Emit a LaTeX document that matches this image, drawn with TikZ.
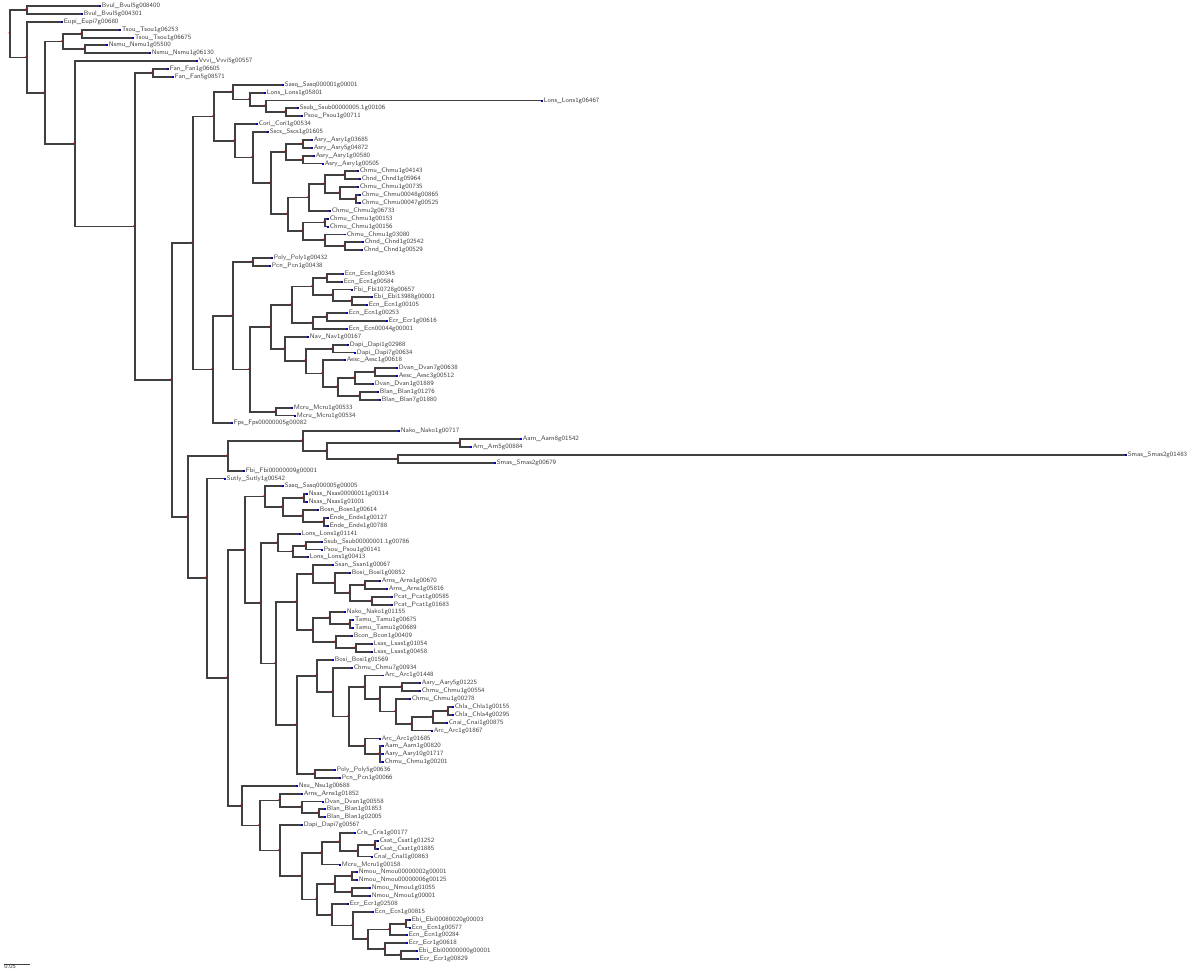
\documentclass[tikz,border=0pt]{standalone}
\usepackage{tikz}
\usetikzlibrary{positioning}

\newcommand\tipmark{{\color{blue!75!black}\rule[0.3pt]{0.9pt}{1.1pt}}\hspace{0.7pt}}
\tikzset{
  br/.style={draw=black!75, line width=0.75pt},
  tip/.style={anchor=west, inner sep=0pt, outer sep=0pt, text=black!75,
    font=\fontsize{3.7}{3.9}\sffamily, execute at begin node={\tipmark}},
  nodedot/.style={fill=red!80!black},
}

\begin{document}
\begin{tikzpicture}[x=0.2mm,y=-0.2mm]
\useasboundingbox (0,0) rectangle (1200,976);
% tips
\node[tip] (t1) at (99,6) {Bvul\_Bvul5g008400};
\node[tip] (t2) at (81,14) {Bvul\_Bvul5g004301};
\node[tip] (t3) at (61,22) {Eupi\_Eupi7g00680};
\node[tip] (t4) at (119,30) {Tsou\_Tsou1g06253};
\node[tip] (t5) at (132,38) {Tsou\_Tsou1g06675};
\node[tip] (t6) at (106,45) {Nsmu\_Nsmu1g05500};
\node[tip] (t7) at (149,53) {Nsmu\_Nsmu1g06130};
\node[tip] (t8) at (196,61) {Vvvi\_Vvvi5g00557};
\node[tip] (t9) at (167,69) {Fan\_Fan1g06605};
\node[tip] (t10) at (172,77) {Fan\_Fan5g08571};
\node[tip] (t11) at (282,85) {Sasq\_Sasq000001g00001};
\node[tip] (t12) at (264,93) {Lons\_Lons1g05801};
\node[tip] (t13) at (541,100.5) {Lons\_Lons1g06467};
\node[tip] (t14) at (297,108) {Ssub\_Ssub00000005.1g00106};
\node[tip] (t15) at (301,116) {Psou\_Psou1g00711};
\node[tip] (t16) at (256,124) {Cori\_Cori1g00534};
\node[tip] (t17) at (267,132) {Sscs\_Sscs1g01605};
\node[tip] (t18) at (311,140) {Asry\_Asry1g03685};
\node[tip] (t19) at (311,148) {Asry\_Asry5g04872};
\node[tip] (t20) at (313,156) {Asry\_Asry1g00580};
\node[tip] (t21) at (322,163.5) {Asry\_Asry1g00505};
\node[tip] (t22) at (357,171) {Chmu\_Chmu1g04143};
\node[tip] (t23) at (359,179) {Chnd\_Chnd1g05964};
\node[tip] (t24) at (357,187) {Chmu\_Chmu1g00735};
\node[tip] (t25) at (359,195) {Chmu\_Chmu00048g00865};
\node[tip] (t26) at (359,203) {Chmu\_Chmu00047g00525};
\node[tip] (t27) at (329,211) {Chmu\_Chmu2g06733};
\node[tip] (t28) at (327,219) {Chmu\_Chmu1g00153};
\node[tip] (t29) at (327,226.5) {Chmu\_Chmu1g00156};
\node[tip] (t30) at (344,234.4) {Chmu\_Chmu1g03080};
\node[tip] (t31) at (362,242) {Chnd\_Chnd1g02542};
\node[tip] (t32) at (361,250) {Chnd\_Chnd1g00529};
\node[tip] (t33) at (271,258) {Poly\_Poly1g00432};
\node[tip] (t34) at (269,266) {Pcn\_Pcn1g00438};
\node[tip] (t35) at (342,274) {Ecn\_Ecn1g00345};
\node[tip] (t36) at (341,282) {Ecn\_Ecn1g00584};
\node[tip] (t37) at (351,289.5) {Fbi\_Fbi10728g00657};
\node[tip] (t38) at (371,297) {Ebi\_Ebi13988g00001};
\node[tip] (t39) at (366,305) {Ecn\_Ecn1g00105};
\node[tip] (t40) at (346,313) {Ecn\_Ecn1g00253};
\node[tip] (t41) at (386,321) {Ecr\_Ecr1g00616};
\node[tip] (t42) at (346,329) {Ecn\_Ecn00044g00001};
\node[tip] (t43) at (307,337) {Nav\_Nav1g00167};
\node[tip] (t44) at (347,345) {Dapi\_Dapi1g02988};
\node[tip] (t45) at (354,352.5) {Dapi\_Dapi7g00634};
\node[tip] (t46) at (344,360) {Aesc\_Aesc1g00618};
\node[tip] (t47) at (396,368) {Dvan\_Dvan7g00638};
\node[tip] (t48) at (396,376) {Aesc\_Aesc3g00512};
\node[tip] (t49) at (372,384) {Dvan\_Dvan1g01889};
\node[tip] (t50) at (377,392) {Blan\_Blan1g01276};
\node[tip] (t51) at (379,400) {Blan\_Blan7g01880};
\node[tip] (t52) at (291,408) {Mcru\_Mcru1g00533};
\node[tip] (t53) at (294,415.5) {Mcru\_Mcru1g00534};
\node[tip] (t54) at (231,423) {Fps\_Fps00000005g00082};
\node[tip] (t55) at (398,431) {Nako\_Nako1g00717};
\node[tip] (t56) at (520,439) {Aarn\_Aarn8g01542};
\node[tip] (t57) at (470,447) {Arn\_Arn5g00884};
\node[tip] (t58) at (1125,455) {Smas\_Smas2g01483};
\node[tip] (t59) at (494,463) {Smas\_Smas2g00679};
\node[tip] (t60) at (243,471) {Fbi\_Fbi00000009g00001};
\node[tip] (t61) at (224,478.6) {Sutly\_Sutly1g00542};
\node[tip] (t62) at (282,486) {Sasq\_Sasq000005g00005};
\node[tip] (t63) at (306,494) {Nsas\_Nsas00000011g00314};
\node[tip] (t64) at (306,502) {Nsas\_Nsas1g01001};
\node[tip] (t65) at (317,510) {Bosn\_Bosn1g00614};
\node[tip] (t66) at (327,518) {Ende\_Ende1g00127};
\node[tip] (t67) at (327,526) {Ende\_Ende1g00788};
\node[tip] (t68) at (299,534) {Lons\_Lons1g01141};
\node[tip] (t69) at (321,542) {Ssub\_Ssub00000001.1g00786};
\node[tip] (t70) at (321,549.5) {Psou\_Psou1g00141};
\node[tip] (t71) at (307,557) {Lons\_Lons1g00413};
\node[tip] (t72) at (332,565) {Ssan\_Ssan1g00067};
\node[tip] (t73) at (349,573) {Bosi\_Bosi1g00852};
\node[tip] (t74) at (379,581) {Arns\_Arns1g00670};
\node[tip] (t75) at (386,589) {Arns\_Arns1g05816};
\node[tip] (t76) at (391,597) {Pcat\_Pcat1g00585};
\node[tip] (t77) at (391,605) {Pcat\_Pcat1g01683};
\node[tip] (t78) at (344,612) {Nako\_Nako1g01155};
\node[tip] (t79) at (352,620) {Tamu\_Tamu1g00675};
\node[tip] (t80) at (352,628) {Tamu\_Tamu1g00689};
\node[tip] (t81) at (351,636) {Bcon\_Bcon1g00409};
\node[tip] (t82) at (371,644) {Lsas\_Lsas1g01054};
\node[tip] (t83) at (371,652) {Lsas\_Lsas1g00458};
\node[tip] (t84) at (332,660) {Bosi\_Bosi1g01569};
\node[tip] (t85) at (351,668) {Chmu\_Chmu7g00934};
\node[tip] (t86) at (382,675.4) {Arc\_Arc1g01448};
\node[tip] (t87) at (419,683) {Aary\_Aary5g01225};
\node[tip] (t88) at (419,691) {Chmu\_Chmu1g00554};
\node[tip] (t89) at (409,699) {Chmu\_Chmu1g00278};
\node[tip] (t90) at (452,707) {Chla\_Chla1g00155};
\node[tip] (t91) at (452,715) {Chla\_Chla4g00295};
\node[tip] (t92) at (446,723) {Cnai\_Cnai1g00875};
\node[tip] (t93) at (431,730.6) {Arc\_Arc1g01867};
\node[tip] (t94) at (379,738.5) {Arc\_Arc1g01685};
\node[tip] (t95) at (382,746) {Aarn\_Aarn1g00820};
\node[tip] (t96) at (382,754) {Aary\_Aary10g01717};
\node[tip] (t97) at (382,762) {Chmu\_Chmu1g00201};
\node[tip] (t98) at (334,770) {Poly\_Poly5g00636};
\node[tip] (t99) at (339,778) {Pcn\_Pcn1g00066};
\node[tip] (t100) at (296,786) {Nsu\_Nsu1g00688};
\node[tip] (t101) at (301,794) {Arns\_Arns1g01852};
\node[tip] (t102) at (322,801.5) {Dvan\_Dvan1g00558};
\node[tip] (t103) at (324,809) {Blan\_Blan1g01853};
\node[tip] (t104) at (324,817) {Blan\_Blan1g02005};
\node[tip] (t105) at (301,825) {Dapi\_Dapi7g00567};
\node[tip] (t106) at (354,833) {Cris\_Cris1g00177};
\node[tip] (t107) at (377,841) {Csat\_Csat1g01252};
\node[tip] (t108) at (377,849) {Csat\_Csat1g01885};
\node[tip] (t109) at (371,856.6) {Cnal\_Cnal1g00863};
\node[tip] (t110) at (339,864.5) {Mcru\_Mcru1g00158};
\node[tip] (t111) at (356,872) {Nmou\_Nmou00000002g00001};
\node[tip] (t112) at (356,880) {Nmou\_Nmou00000006g00125};
\node[tip] (t113) at (369,888) {Nmou\_Nmou1g01055};
\node[tip] (t114) at (369,896) {Nmou\_Nmou1g00001};
\node[tip] (t115) at (347,904) {Ecr\_Ecr1g02508};
\node[tip] (t116) at (372,912) {Ecn\_Ecn1g00815};
\node[tip] (t117) at (409,920) {Ebi\_Ebi00080020g00003};
\node[tip] (t118) at (409,927.5) {Ecn\_Ecn1g00577};
\node[tip] (t119) at (406,935) {Ecn\_Ecn1g00284};
\node[tip] (t120) at (406,943) {Ecr\_Ecr1g00618};
\node[tip] (t121) at (416,951) {Ebi\_Ebi00000000g00001};
\node[tip] (t122) at (417,959) {Ecr\_Ecr1g00829};
% inner nodes
\coordinate (r) at (10,34);
\coordinate (nA) at (27,10);
\coordinate (nB) at (27,57.5);
\coordinate (nC) at (45,93);
\coordinate (nD) at (63,41.5);
\coordinate (nD1) at (82,34);
\coordinate (nD2) at (85,49);
\coordinate (nE) at (75,144);
\coordinate (nF) at (135,226.5);
\coordinate (nG) at (153,73);
\coordinate (nAA) at (172,380);
\coordinate (nW) at (193,243);
\coordinate (nJ) at (214,116.5);
\coordinate (nK) at (233,92);
\coordinate (nM) at (250,99.5);
\coordinate (nN) at (266,106);
\coordinate (nO) at (286,112);
\coordinate (nL) at (235,141);
\coordinate (nP) at (253,157.5);
\coordinate (nQ) at (271,183);
\coordinate (nR) at (286,152);
\coordinate (nR1) at (303,144);
\coordinate (nR2) at (303,160);
\coordinate (nS) at (288,214);
\coordinate (nT) at (309,197.5);
\coordinate (nV) at (325,184);
\coordinate (nV1) at (345,175);
\coordinate (nV2) at (340,193);
\coordinate (nV3) at (356,199);
\coordinate (nU) at (303,231);
\coordinate (nU1) at (325,222.5);
\coordinate (nU2) at (325,240);
\coordinate (nU3) at (345,246);
\coordinate (nX) at (213,369.5);
\coordinate (nY) at (233,316);
\coordinate (nPP) at (253,262);
\coordinate (nZ) at (250,369.5);
\coordinate (nZ1) at (271,327);
\coordinate (nZ2) at (292,305);
\coordinate (nZ4) at (313,286.5);
\coordinate (nZ6) at (327,278);
\coordinate (nZ7) at (333,295);
\coordinate (nZ8) at (352,301);
\coordinate (nZ5) at (313,323);
\coordinate (nZ9) at (327,317);
\coordinate (nZ3) at (285,349);
\coordinate (nZ10) at (306,361);
\coordinate (nDP) at (333,349);
\coordinate (nZ11) at (323,373.5);
\coordinate (nZ12) at (338,387);
\coordinate (nZ13) at (355,378);
\coordinate (nZ15) at (375,372);
\coordinate (nZ14) at (360,396);
\coordinate (nMc) at (276,412);
\coordinate (nEE) at (188,517);
\coordinate (nCC) at (228,456);
\coordinate (nDD) at (303,441);
\coordinate (nDD2) at (327,451);
\coordinate (nDD3) at (460,443);
\coordinate (nDD4) at (398,459);
\coordinate (nFF) at (207,578);
\coordinate (nGG) at (228,678);
\coordinate (nHH) at (245,550);
\coordinate (nJJ) at (265,496.5);
\coordinate (nJJ2) at (283,507);
\coordinate (nNs) at (304,498);
\coordinate (nJJ3) at (303,516);
\coordinate (nEn) at (324,522);
\coordinate (nII) at (261,603);
\coordinate (nMM) at (278,543);
\coordinate (nMM2) at (293,551.5);
\coordinate (nSs) at (306,546);
\coordinate (nNN) at (276,663.5);
\coordinate (nOO) at (297,602);
\coordinate (nOO1) at (313,574);
\coordinate (nOO3) at (335,583);
\coordinate (nOO4) at (350,593);
\coordinate (nAr) at (365,585);
\coordinate (nPc) at (372,601);
\coordinate (nOO2) at (313,630);
\coordinate (nOO5) at (330,618);
\coordinate (nTa) at (350,624);
\coordinate (nOO6) at (336,642);
\coordinate (nLs) at (356,648);
\coordinate (nQQ) at (297,725);
\coordinate (nRR) at (317,676);
\coordinate (nRR2) at (333,692);
\coordinate (nRR3) at (349,716.5);
\coordinate (nT8) at (365,687);
\coordinate (nT7) at (380,699);
\coordinate (nT1) at (402,687);
\coordinate (nT6) at (396,711.5);
\coordinate (nT5) at (412,724);
\coordinate (nT4) at (433,717);
\coordinate (nT3) at (448,711);
\coordinate (nT10) at (365,746);
\coordinate (nT11) at (380,754);
\coordinate (nSS) at (315,774);
\coordinate (nKK) at (242,806);
\coordinate (nLL) at (260,825.5);
\coordinate (nLL1) at (280,800.5);
\coordinate (nLL3) at (302,807);
\coordinate (nBl) at (319,813);
\coordinate (nLL2) at (280,850.5);
\coordinate (nLL4) at (302,876);
\coordinate (nLL5) at (322,853);
\coordinate (nLL7) at (340,842);
\coordinate (nLL8) at (358,851);
\coordinate (nCs) at (375,845);
\coordinate (nLL6) at (317,899.5);
\coordinate (nLL10) at (335,884);
\coordinate (nNm1) at (352,876);
\coordinate (nNm2) at (352,892);
\coordinate (nLL11) at (332,915);
\coordinate (nLL12) at (353,925.5);
\coordinate (nLL13) at (368,939);
\coordinate (nLL14) at (390,929.5);
\coordinate (nLL16) at (406,924);
\coordinate (nLL15) at (385,949);
\coordinate (nLL17) at (401,955);
% branches
\foreach \p/\c in {r/nA, r/nB, nA/t1, nA/t2, nB/t3, nB/nC, nC/nD, nC/nE,
    nD/nD1, nD/nD2, nD1/t4, nD1/t5, nD2/t6, nD2/t7, nE/t8, nE/nF,
    nF/nG, nF/nAA, nG/t9, nG/t10, nAA/nW, nAA/nEE}
  \draw[br] (\p) |- (\c);
\foreach \p/\c in {nW/nJ, nW/nX, nJ/nK, nJ/nL, nK/t11, nK/nM, nM/t12, nM/nN,
    nN/t13, nN/nO, nO/t14, nO/t15, nL/t16, nL/nP, nP/t17, nP/nQ, nQ/nR, nQ/nS,
    nR/nR1, nR/nR2, nR1/t18, nR1/t19, nR2/t20, nR2/t21, nS/nT, nS/nU,
    nT/nV, nT/t27, nV/nV1, nV/nV2, nV1/t22, nV1/t23, nV2/t24, nV2/nV3,
    nV3/t25, nV3/t26, nU/nU1, nU/nU2, nU1/t28, nU1/t29, nU2/t30, nU2/nU3,
    nU3/t31, nU3/t32}
  \draw[br] (\p) |- (\c);
\foreach \p/\c in {nX/nY, nX/t54, nY/nPP, nY/nZ, nPP/t33, nPP/t34, nZ/nZ1, nZ/nMc,
    nZ1/nZ2, nZ1/nZ3, nZ2/nZ4, nZ2/nZ5, nZ4/nZ6, nZ4/nZ7, nZ6/t35, nZ6/t36,
    nZ7/t37, nZ7/nZ8, nZ8/t38, nZ8/t39, nZ5/nZ9, nZ5/t42, nZ9/t40, nZ9/t41,
    nZ3/t43, nZ3/nZ10, nZ10/nDP, nZ10/nZ11, nDP/t44, nDP/t45, nZ11/t46, nZ11/nZ12,
    nZ12/nZ13, nZ12/nZ14, nZ13/nZ15, nZ13/t49, nZ15/t47, nZ15/t48,
    nZ14/t50, nZ14/t51, nMc/t52, nMc/t53}
  \draw[br] (\p) |- (\c);
\foreach \p/\c in {nEE/nCC, nEE/nFF, nCC/nDD, nCC/t60, nDD/t55, nDD/nDD2,
    nDD2/nDD3, nDD2/nDD4, nDD3/t56, nDD3/t57, nDD4/t58, nDD4/t59,
    nFF/t61, nFF/nGG, nGG/nHH, nGG/nKK, nHH/nJJ, nHH/nII,
    nJJ/t62, nJJ/nJJ2, nJJ2/nNs, nJJ2/nJJ3, nNs/t63, nNs/t64, nJJ3/t65, nJJ3/nEn,
    nEn/t66, nEn/t67, nII/nMM, nII/nNN, nMM/t68, nMM/nMM2, nMM2/nSs, nMM2/t71,
    nSs/t69, nSs/t70}
  \draw[br] (\p) |- (\c);
\foreach \p/\c in {nNN/nOO, nNN/nQQ, nOO/nOO1, nOO/nOO2, nOO1/t72, nOO1/nOO3,
    nOO3/t73, nOO3/nOO4, nOO4/nAr, nOO4/nPc, nAr/t74, nAr/t75, nPc/t76, nPc/t77,
    nOO2/nOO5, nOO2/nOO6, nOO5/t78, nOO5/nTa, nTa/t79, nTa/t80,
    nOO6/t81, nOO6/nLs, nLs/t82, nLs/t83,
    nQQ/nRR, nQQ/nSS, nRR/t84, nRR/nRR2, nRR2/t85, nRR2/nRR3, nRR3/nT8, nRR3/nT10,
    nT8/t86, nT8/nT7, nT7/nT1, nT7/nT6, nT1/t87, nT1/t88, nT6/t89, nT6/nT5,
    nT5/nT4, nT5/t93, nT4/nT3, nT4/t92, nT3/t90, nT3/t91,
    nT10/t94, nT10/nT11, nT11/t95, nT11/t96, nT11/t97, nSS/t98, nSS/t99}
  \draw[br] (\p) |- (\c);
\foreach \p/\c in {nKK/t100, nKK/nLL, nLL/nLL1, nLL/nLL2, nLL1/t101, nLL1/nLL3,
    nLL3/t102, nLL3/nBl, nBl/t103, nBl/t104, nLL2/t105, nLL2/nLL4,
    nLL4/nLL5, nLL4/nLL6, nLL5/nLL7, nLL5/t110, nLL7/t106, nLL7/nLL8,
    nLL8/nCs, nLL8/t109, nCs/t107, nCs/t108, nLL6/nLL10, nLL6/nLL11,
    nLL10/nNm1, nLL10/nNm2, nNm1/t111, nNm1/t112, nNm2/t113, nNm2/t114,
    nLL11/t115, nLL11/nLL12, nLL12/t116, nLL12/nLL13, nLL13/nLL14, nLL13/nLL15,
    nLL14/nLL16, nLL14/t119, nLL16/t117, nLL16/t118, nLL15/t120, nLL15/nLL17,
    nLL17/t121, nLL17/t122}
  \draw[br] (\p) |- (\c);
% node dots
\foreach \n in {r,nA,nB,nC,nD,nD1,nD2,nE,nF,nG,nAA,nW,nJ,nK,nM,nN,nO,nL,nP,nQ,
    nR,nR1,nR2,nS,nT,nV,nV1,nV2,nV3,nU,nU1,nU2,nU3,nX,nY,nPP,nZ,nZ1,nZ2,nZ4,
    nZ6,nZ7,nZ8,nZ5,nZ9,nZ3,nZ10,nDP,nZ11,nZ12,nZ13,nZ15,nZ14,nMc,nEE,nCC,
    nDD,nDD2,nDD3,nDD4,nFF,nGG,nHH,nJJ,nJJ2,nNs,nJJ3,nEn,nII,nMM,nMM2,nSs,
    nNN,nOO,nOO1,nOO3,nOO4,nAr,nPc,nOO2,nOO5,nTa,nOO6,nLs,nQQ,nRR,nRR2,nRR3,
    nT8,nT7,nT1,nT6,nT5,nT4,nT3,nT10,nT11,nSS,nKK,nLL,nLL1,nLL3,nBl,nLL2,
    nLL4,nLL5,nLL7,nLL8,nCs,nLL6,nLL10,nNm1,nNm2,nLL11,nLL12,nLL13,nLL14,
    nLL16,nLL15,nLL17}
  \fill[nodedot] (\n) ++(-0.4pt,0.6pt) circle (0.5pt);
% scale bar
\coordinate (sbA) at (4,964);
\coordinate (sbB) at (30,964);
\draw[br, line width=0.35pt] (sbA) -- (sbB);
\node[font=\fontsize{3.5}{3.7}\sffamily, text=black!80, anchor=north west, inner sep=0pt] (sbl) at (sbA) {0.05};
\end{tikzpicture}
\end{document}
